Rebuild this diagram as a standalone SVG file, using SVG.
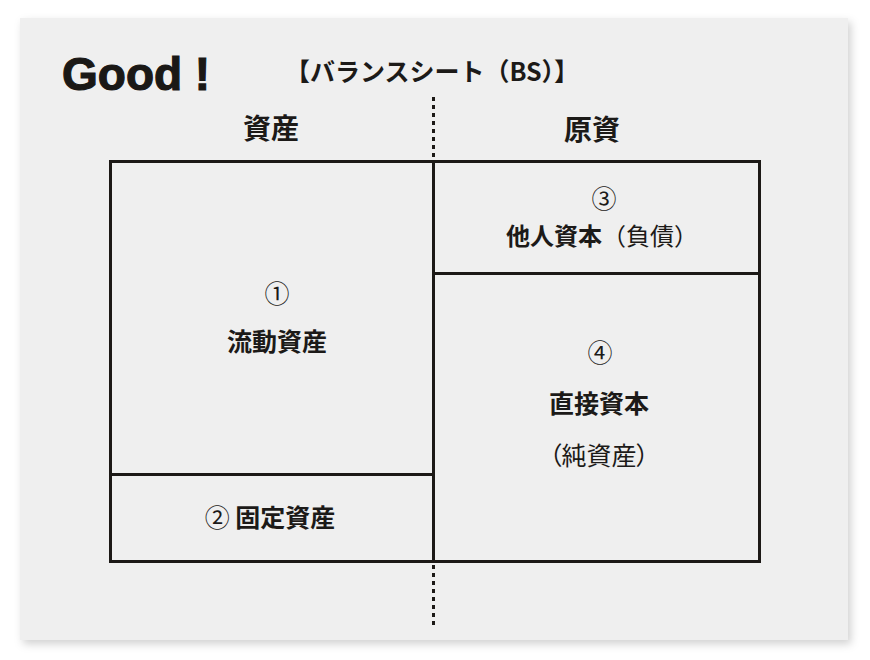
<svg xmlns="http://www.w3.org/2000/svg" width="870" height="660" viewBox="0 0 870 660">
  <defs>
    <filter id="shadow" x="-5%" y="-5%" width="110%" height="110%">
      <feDropShadow dx="3" dy="4" stdDeviation="4" flood-color="#000" flood-opacity="0.18"/>
    </filter>
    <style>
      .jp { font-family: "Noto Sans CJK JP", "Noto Sans", sans-serif; fill: #1c1a18; }
      .b { font-weight: 700; }
      .m { font-weight: 700; }
      .n { font-weight: 400; }
      .palt { font-feature-settings: "palt"; }
      .box { fill: none; stroke: #1c1916; stroke-width: 3; }
      .dash { fill: none; stroke: #1c1916; stroke-width: 3; stroke-dasharray: 4 4; }
    </style>
  </defs>
  <rect x="0" y="0" width="870" height="660" fill="#ffffff"/>
  <rect id="panel" x="20" y="18" width="828" height="622" fill="#efefef" filter="url(#shadow)"/>

  <g id="title">
    <text x="62" y="90" font-family="Liberation Sans, Arial, sans-serif" font-weight="700" font-size="46" fill="#1a1816" stroke="#1a1816" stroke-width="1.2">Good !</text>
    <text x="432" y="81" class="jp m" font-size="25" text-anchor="middle">【バランスシート（BS）】</text>
  </g>

  <g id="headers">
    <text x="271" y="139" class="jp m" font-size="28" text-anchor="middle">資産</text>
    <text x="592" y="140" class="jp m" font-size="28" text-anchor="middle">原資</text>
  </g>

  <g id="connectors">
    <line class="dash" x1="433.5" y1="97" x2="433.5" y2="160"/>
    <line class="dash" x1="433.5" y1="565" x2="433.5" y2="626"/>
  </g>

  <g id="node-current-assets">
    <rect class="box" x="110.5" y="161.5" width="323" height="313"/>
    <text x="277" y="303" class="jp n" font-size="25" text-anchor="middle">①</text>
    <text x="277" y="351" class="jp b" font-size="25" text-anchor="middle">流動資産</text>
  </g>

  <g id="node-fixed-assets">
    <rect class="box" x="110.5" y="474.5" width="323" height="87"/>
    <text x="270" y="527" class="jp" font-size="25" text-anchor="middle"><tspan class="n">② </tspan><tspan class="b">固定資産</tspan></text>
  </g>

  <g id="node-liabilities">
    <rect class="box" x="433.5" y="161.5" width="326" height="112"/>
    <text x="604" y="208" class="jp n" font-size="25" text-anchor="middle">③</text>
    <text x="602" y="245" class="jp" font-size="24" text-anchor="middle"><tspan class="b">他人資本</tspan><tspan class="n">（負債）</tspan></text>
  </g>

  <g id="node-equity">
    <rect class="box" x="433.5" y="273.5" width="326" height="288"/>
    <text x="600" y="362" class="jp n" font-size="25" text-anchor="middle">④</text>
    <text x="599" y="413" class="jp b" font-size="25" text-anchor="middle">直接資本</text>
    <text x="599" y="465" class="jp n palt" font-size="25" text-anchor="middle">（純資産）</text>
  </g>
</svg>
